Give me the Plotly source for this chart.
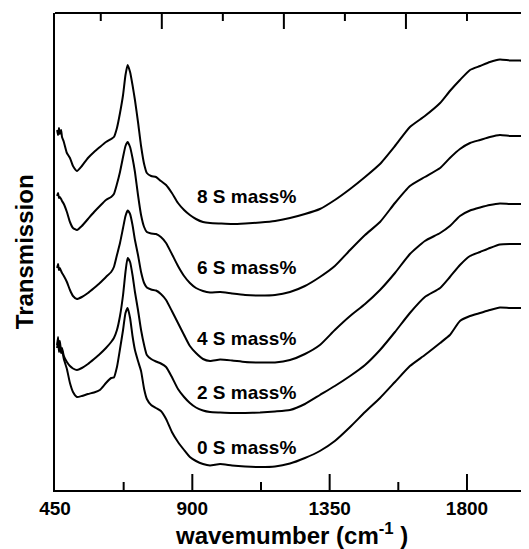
import plotly.graph_objects as go

wavenumber = [457, 460, 463, 466, 470, 473, 479, 489, 499, 509, 522,
              538, 558, 578, 597, 617, 634, 643, 653, 663, 673,
              681, 688, 696, 704, 712, 722, 732, 742, 751, 765,
              781, 797, 814, 833, 853, 873, 892, 912, 935, 958,
              991, 1030, 1073, 1122, 1171, 1220, 1269, 1318, 1367, 1417,
              1466, 1515, 1564, 1613, 1662, 1712, 1744, 1777, 1810, 1843,
              1875, 1908, 1941, 1974, 2000]

t_8 = [360, 355, 362, 356, 360, 353, 348, 337, 332, 324, 319,
       324, 332, 338, 343, 348, 351, 353, 362, 377, 395,
       415, 425, 418, 405, 390, 368, 344, 326, 317, 314,
       313, 309, 305, 297, 287, 280, 275, 271, 268, 267,
       266.5, 266, 266.5, 267.5, 269, 272, 276, 281, 290, 301,
       313, 326, 344, 363, 374, 387, 399, 410, 420, 424,
       428, 430.5, 429.5, 429.5, 428]
t_6 = [294, 297, 292, 293, 291, 289, 286, 278, 268, 262, 260,
       264, 271, 278, 284, 290, 293, 296, 306, 318, 333,
       344, 348, 343, 332, 318, 295, 275, 263, 258, 256.5,
       256, 253, 247, 236, 224, 214, 207, 202, 199, 197.5,
       198, 196.5, 195, 194.5, 195, 198, 204, 213, 224, 240,
       255, 268, 287, 304, 313, 322, 332, 341, 347, 350,
       353, 355, 354, 354, 354]
t_4 = [222, 226, 220, 222, 219, 217, 214, 208, 200, 194, 191,
       193, 197, 202, 207, 213, 218, 223, 235, 247, 262,
       274, 279.5, 276, 265, 250, 235, 218, 207, 202.5, 200.5,
       199.5, 196, 190, 179, 167, 155, 144, 137, 131, 129,
       130.5, 129.5, 128, 127.5, 127.5, 130, 136, 145, 160, 174,
       186, 200, 217, 236, 249, 257, 264, 274, 279.5, 282.5,
       285, 286.5, 286, 286, 285.5]
t_2 = [145, 153, 140, 149, 138, 142, 134, 128, 124, 121.5, 120,
       122, 126, 131, 136, 142, 148, 152, 160, 174, 195,
       218, 232, 228, 215, 198, 180, 160, 145, 135, 131,
       128.5, 126.5, 123, 113, 101, 93, 87, 82.5, 79.5, 78,
       77.5, 77, 77, 77.5, 78.5, 80, 86, 95, 104, 114,
       125, 140, 158, 177, 193, 202, 213, 225, 234, 238,
       242, 245.5, 246, 246, 245.5]
t_0 = [142, 150, 138, 146, 137, 140, 131, 121, 107, 98, 93,
       94, 96, 97.5, 100, 107, 112, 112.5, 123, 141, 160,
       177, 182, 172, 154, 140, 129, 119, 101, 91, 85,
       82, 79, 71, 58, 48, 40, 33, 29, 26, 24.5,
       26, 24.5, 23.5, 23, 23.5, 26.5, 32, 39, 49, 63,
       78, 92, 108, 124, 135, 147, 155, 169, 174, 177,
       180, 182.5, 182, 182, 181.5]

series = [t_8, t_6, t_4, t_2, t_0]
labels = ["8 S mass%", "6 S mass%", "4 S mass%", "2 S mass%", "0 S mass%"]
label_x = [1076, 1076, 1076, 1076, 1076]
label_y = [294, 223, 152, 98, 43]

bottom_ticks = [450, 900, 1350, 1800]
bottom_minor = [675, 1125, 1575]
top_ticks = [800, 1200, 1600, 2000]
top_minor = [600, 1000, 1400, 1800]

FONT = "Arial, Liberation Sans, sans-serif"
Y_MAX = 477           # y range top; plot-area height is 477 px
MAJOR, MINOR = 16, 8  # tick lengths (y units == px here)

fig = go.Figure()
for ys in series:
    fig.add_trace(go.Scatter(x=wavenumber, y=ys, mode="lines",
                             line=dict(color="black", width=2, shape="spline", smoothing=0.5),
                             showlegend=False, hoverinfo="skip"))

# frame (top edge) of the plot box
fig.add_shape(type="line", xref="paper", yref="paper", x0=0, x1=1, y0=1, y1=1,
              line=dict(color="black", width=2), layer="above")

# inward tick marks on bottom and top axes, placed through the axis scales
def add_ticks(vals, length, top):
    for v in vals:
        y0, y1 = (Y_MAX - length, Y_MAX) if top else (0, length)
        fig.add_shape(type="line", xref="x", yref="y", x0=v, x1=v, y0=y0, y1=y1,
                      line=dict(color="black", width=2), layer="above")

add_ticks(bottom_ticks[1:], MAJOR, False)
add_ticks(bottom_minor, MINOR, False)
add_ticks(top_ticks[:-1], MAJOR, True)
add_ticks(top_minor, MINOR, True)

for lab, lx, ly in zip(labels, label_x, label_y):
    fig.add_annotation(x=lx, y=ly, text="<b>%s</b>" % lab, showarrow=False,
                       font=dict(family=FONT, size=19, color="black"),
                       xanchor="center", yanchor="middle")

fig.add_annotation(xref="paper", yref="paper", x=0.501, y=-0.093,
                   text="<b>wavemumber (cm<sup>-1</sup> )</b>", showarrow=False,
                   font=dict(family=FONT, size=24, color="black"),
                   xanchor="center", yanchor="middle")
fig.add_annotation(xref="paper", yref="paper", x=-0.063, y=0.499,
                   text="<b>Transmission</b>", showarrow=False, textangle=-90,
                   font=dict(family=FONT, size=24, color="black"),
                   xanchor="center", yanchor="middle")

# the page body adds an 8px offset, so the figure is 8px smaller on each side
fig.update_layout(
    width=521, height=541,
    margin=dict(l=47, r=1, t=5, b=59, autoexpand=False),
    paper_bgcolor="white", plot_bgcolor="white",
    font=dict(family=FONT, color="black"),
    xaxis=dict(range=[450, 2000], showgrid=False, zeroline=False, automargin=False,
               showline=True, linecolor="black", linewidth=2,
               tickmode="array", tickvals=bottom_ticks,
               ticktext=["<b>%d</b>" % v for v in bottom_ticks],
               ticks="", ticklabelstandoff=0,
               tickfont=dict(family=FONT, size=19, color="black")),
    yaxis=dict(range=[0, Y_MAX], showgrid=False, zeroline=False, showline=True,
               automargin=False,
               linecolor="black", linewidth=2, showticklabels=False, ticks=""),
)

fig.write_html("out.html")
